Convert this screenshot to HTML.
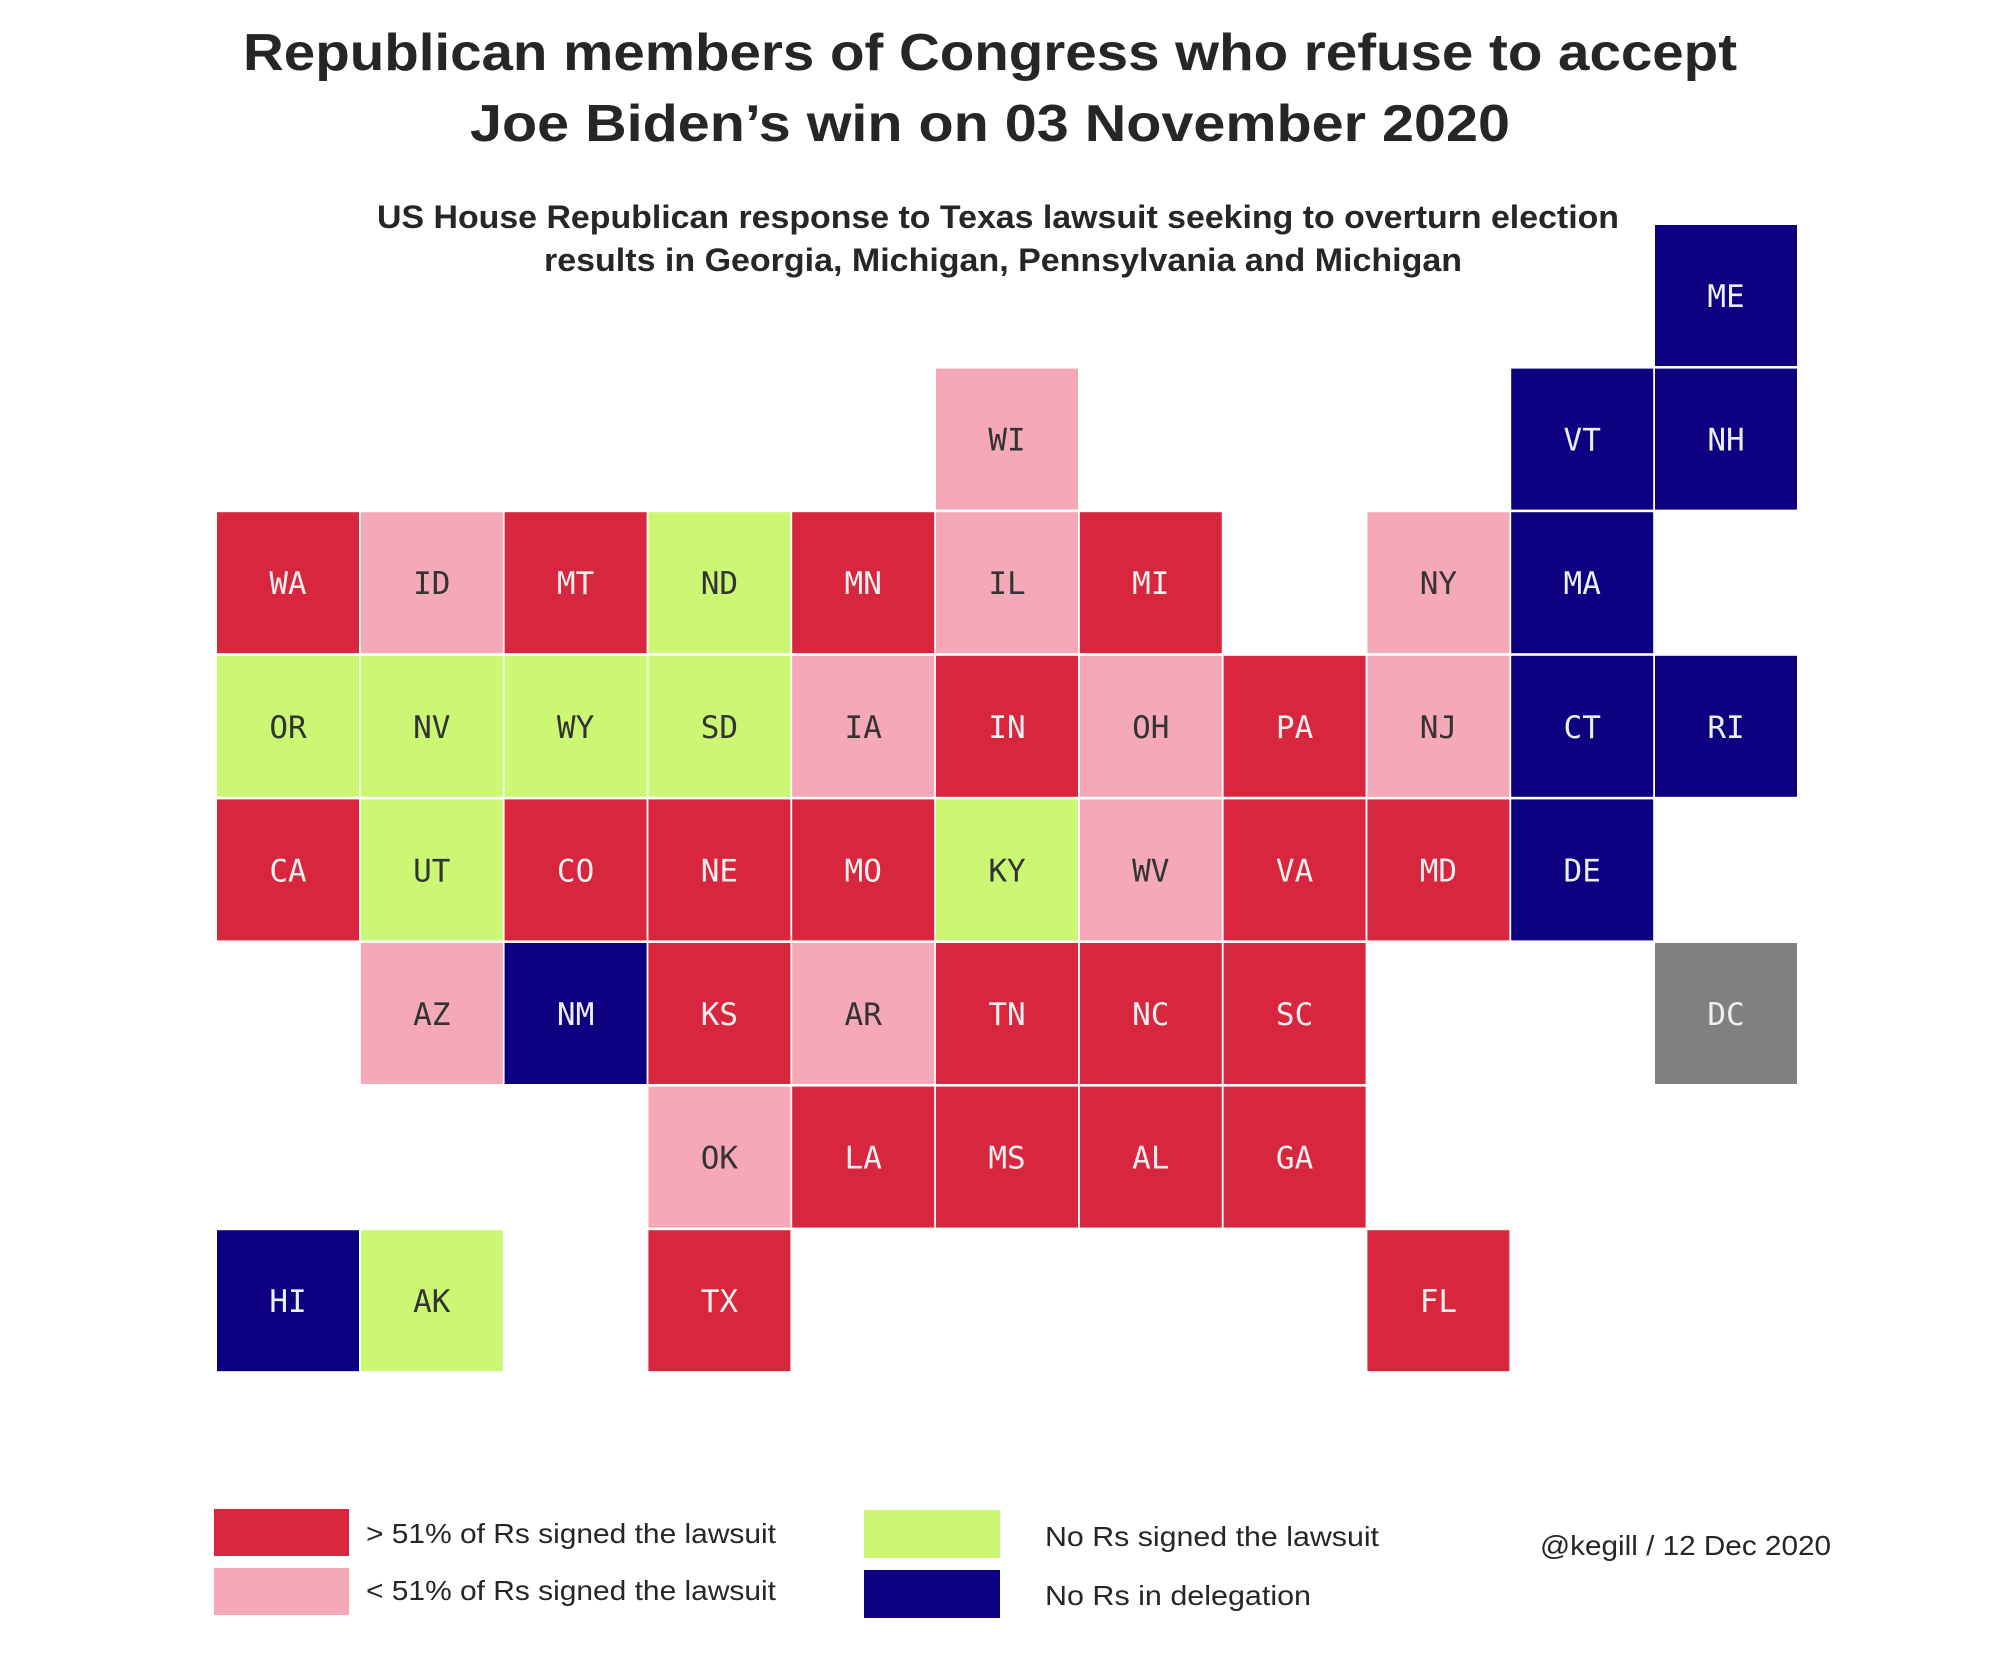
<!DOCTYPE html>
<html><head><meta charset="utf-8"><style>
html,body{margin:0;padding:0;background:#fff;}
svg{display:block;}
.t{font-family:"DejaVu Sans Mono","Liberation Mono",monospace;font-size:31px;text-anchor:middle;dominant-baseline:central;}
.h{font-family:"Liberation Sans",sans-serif;fill:#262626;text-anchor:middle;}
.l{font-family:"Liberation Sans",sans-serif;fill:#262626;font-size:28px;}
.r rect{fill:#d7263d}.r text{fill:#eeeeee}
.p rect{fill:#f5a9b8}.p text{fill:#333333}
.g rect{fill:#ccf774}.g text{fill:#333333}
.n rect{fill:#0c0080}.n text{fill:#eeeeee}
.x rect{fill:#808080}.x text{fill:#eeeeee}
</style></head><body>
<svg width="2000" height="1654" viewBox="0 0 2000 1654" xmlns="http://www.w3.org/2000/svg">
<text class="h" x="990" y="70" font-size="52" font-weight="bold" textLength="1494" lengthAdjust="spacingAndGlyphs">Republican members of Congress who refuse to accept</text>
<text class="h" x="990" y="141" font-size="52" font-weight="bold" textLength="1040" lengthAdjust="spacingAndGlyphs">Joe Biden’s win on 03 November 2020</text>
<text class="h" x="998" y="228" font-size="32" font-weight="bold" textLength="1242" lengthAdjust="spacingAndGlyphs">US House Republican response to Texas lawsuit seeking to overturn election</text>
<text class="h" x="1003" y="271" font-size="32" font-weight="bold" textLength="918" lengthAdjust="spacingAndGlyphs">results in Georgia, Michigan, Pennsylvania and Michigan</text>

<g class="n" transform="translate(1655,225)"><rect width="142" height="141"/><text class="t" x="71" y="72">ME</text></g>
<g class="p" transform="translate(936,368.6)"><rect width="142" height="141"/><text class="t" x="71" y="72">WI</text></g>
<g class="n" transform="translate(1511.2,368.6)"><rect width="142" height="141"/><text class="t" x="71" y="72">VT</text></g>
<g class="n" transform="translate(1655,368.6)"><rect width="142" height="141"/><text class="t" x="71" y="72">NH</text></g>

<g class="r" transform="translate(217,512.2)"><rect width="142" height="141"/><text class="t" x="71" y="72">WA</text></g>
<g class="p" transform="translate(360.8,512.2)"><rect width="142" height="141"/><text class="t" x="71" y="72">ID</text></g>
<g class="r" transform="translate(504.6,512.2)"><rect width="142" height="141"/><text class="t" x="71" y="72">MT</text></g>
<g class="g" transform="translate(648.4,512.2)"><rect width="142" height="141"/><text class="t" x="71" y="72">ND</text></g>
<g class="r" transform="translate(792.2,512.2)"><rect width="142" height="141"/><text class="t" x="71" y="72">MN</text></g>
<g class="p" transform="translate(936,512.2)"><rect width="142" height="141"/><text class="t" x="71" y="72">IL</text></g>
<g class="r" transform="translate(1079.8,512.2)"><rect width="142" height="141"/><text class="t" x="71" y="72">MI</text></g>
<g class="p" transform="translate(1367.4,512.2)"><rect width="142" height="141"/><text class="t" x="71" y="72">NY</text></g>
<g class="n" transform="translate(1511.2,512.2)"><rect width="142" height="141"/><text class="t" x="71" y="72">MA</text></g>

<g class="g" transform="translate(217,655.8)"><rect width="142" height="141"/><text class="t" x="71" y="72">OR</text></g>
<g class="g" transform="translate(360.8,655.8)"><rect width="142" height="141"/><text class="t" x="71" y="72">NV</text></g>
<g class="g" transform="translate(504.6,655.8)"><rect width="142" height="141"/><text class="t" x="71" y="72">WY</text></g>
<g class="g" transform="translate(648.4,655.8)"><rect width="142" height="141"/><text class="t" x="71" y="72">SD</text></g>
<g class="p" transform="translate(792.2,655.8)"><rect width="142" height="141"/><text class="t" x="71" y="72">IA</text></g>
<g class="r" transform="translate(936,655.8)"><rect width="142" height="141"/><text class="t" x="71" y="72">IN</text></g>
<g class="p" transform="translate(1079.8,655.8)"><rect width="142" height="141"/><text class="t" x="71" y="72">OH</text></g>
<g class="r" transform="translate(1223.6,655.8)"><rect width="142" height="141"/><text class="t" x="71" y="72">PA</text></g>
<g class="p" transform="translate(1367.4,655.8)"><rect width="142" height="141"/><text class="t" x="71" y="72">NJ</text></g>
<g class="n" transform="translate(1511.2,655.8)"><rect width="142" height="141"/><text class="t" x="71" y="72">CT</text></g>
<g class="n" transform="translate(1655,655.8)"><rect width="142" height="141"/><text class="t" x="71" y="72">RI</text></g>

<g class="r" transform="translate(217,799.4)"><rect width="142" height="141"/><text class="t" x="71" y="72">CA</text></g>
<g class="g" transform="translate(360.8,799.4)"><rect width="142" height="141"/><text class="t" x="71" y="72">UT</text></g>
<g class="r" transform="translate(504.6,799.4)"><rect width="142" height="141"/><text class="t" x="71" y="72">CO</text></g>
<g class="r" transform="translate(648.4,799.4)"><rect width="142" height="141"/><text class="t" x="71" y="72">NE</text></g>
<g class="r" transform="translate(792.2,799.4)"><rect width="142" height="141"/><text class="t" x="71" y="72">MO</text></g>
<g class="g" transform="translate(936,799.4)"><rect width="142" height="141"/><text class="t" x="71" y="72">KY</text></g>
<g class="p" transform="translate(1079.8,799.4)"><rect width="142" height="141"/><text class="t" x="71" y="72">WV</text></g>
<g class="r" transform="translate(1223.6,799.4)"><rect width="142" height="141"/><text class="t" x="71" y="72">VA</text></g>
<g class="r" transform="translate(1367.4,799.4)"><rect width="142" height="141"/><text class="t" x="71" y="72">MD</text></g>
<g class="n" transform="translate(1511.2,799.4)"><rect width="142" height="141"/><text class="t" x="71" y="72">DE</text></g>

<g class="p" transform="translate(360.8,943)"><rect width="142" height="141"/><text class="t" x="71" y="72">AZ</text></g>
<g class="n" transform="translate(504.6,943)"><rect width="142" height="141"/><text class="t" x="71" y="72">NM</text></g>
<g class="r" transform="translate(648.4,943)"><rect width="142" height="141"/><text class="t" x="71" y="72">KS</text></g>
<g class="p" transform="translate(792.2,943)"><rect width="142" height="141"/><text class="t" x="71" y="72">AR</text></g>
<g class="r" transform="translate(936,943)"><rect width="142" height="141"/><text class="t" x="71" y="72">TN</text></g>
<g class="r" transform="translate(1079.8,943)"><rect width="142" height="141"/><text class="t" x="71" y="72">NC</text></g>
<g class="r" transform="translate(1223.6,943)"><rect width="142" height="141"/><text class="t" x="71" y="72">SC</text></g>
<g class="x" transform="translate(1655,943)"><rect width="142" height="141"/><text class="t" x="71" y="72">DC</text></g>

<g class="p" transform="translate(648.4,1086.6)"><rect width="142" height="141"/><text class="t" x="71" y="72">OK</text></g>
<g class="r" transform="translate(792.2,1086.6)"><rect width="142" height="141"/><text class="t" x="71" y="72">LA</text></g>
<g class="r" transform="translate(936,1086.6)"><rect width="142" height="141"/><text class="t" x="71" y="72">MS</text></g>
<g class="r" transform="translate(1079.8,1086.6)"><rect width="142" height="141"/><text class="t" x="71" y="72">AL</text></g>
<g class="r" transform="translate(1223.6,1086.6)"><rect width="142" height="141"/><text class="t" x="71" y="72">GA</text></g>

<g class="n" transform="translate(217,1230.2)"><rect width="142" height="141"/><text class="t" x="71" y="72">HI</text></g>
<g class="g" transform="translate(360.8,1230.2)"><rect width="142" height="141"/><text class="t" x="71" y="72">AK</text></g>
<g class="r" transform="translate(648.4,1230.2)"><rect width="142" height="141"/><text class="t" x="71" y="72">TX</text></g>
<g class="r" transform="translate(1367.4,1230.2)"><rect width="142" height="141"/><text class="t" x="71" y="72">FL</text></g>

<rect x="214" y="1509" width="135" height="47" fill="#d7263d"/>
<rect x="214" y="1568" width="135" height="47" fill="#f5a9b8"/>
<rect x="864" y="1510" width="136" height="48" fill="#ccf774"/>
<rect x="864" y="1570" width="136" height="48" fill="#0c0080"/>
<text class="l" x="366" y="1543" textLength="410" lengthAdjust="spacingAndGlyphs">&gt; 51% of Rs signed the lawsuit</text>
<text class="l" x="366" y="1600" textLength="410" lengthAdjust="spacingAndGlyphs">&lt; 51% of Rs signed the lawsuit</text>
<text class="l" x="1045" y="1546" textLength="334" lengthAdjust="spacingAndGlyphs">No Rs signed the lawsuit</text>
<text class="l" x="1045" y="1605" textLength="266" lengthAdjust="spacingAndGlyphs">No Rs in delegation</text>
<text class="l" x="1540" y="1555" textLength="291" lengthAdjust="spacingAndGlyphs">@kegill / 12 Dec 2020</text>
</svg>
</body></html>
